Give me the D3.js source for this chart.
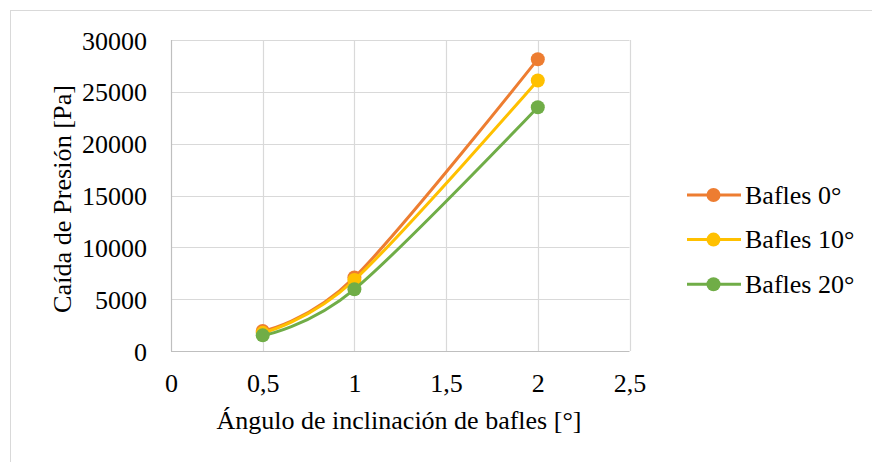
<!DOCTYPE html>
<html><head><meta charset="utf-8">
<script src="https://cdn.jsdelivr.net/npm/d3@7"></script>
<style>body{margin:0;background:#fff}svg{display:block}</style>
</head><body><svg id="c" width="872" height="462"></svg>
<script>
const xValues = [0.5, 1, 2];
const seriesNames = ["Bafles 0°", "Bafles 10°", "Bafles 20°"];
const bafles0 = [1930, 7100, 28150];
const bafles10 = [1750, 6850, 26100];
const bafles20 = [1510, 5950, 23520];
const xTicks = [0, 0.5, 1, 1.5, 2, 2.5];
const yTicks = [0, 5000, 10000, 15000, 20000, 25000, 30000];
const colors = ["#ED7D31", "#FFC000", "#70AD47"];
const xTitle = "Ángulo de inclinación de bafles [°]";
const yTitle = "Caída de Presión [Pa]";

const FF = "'Liberation Serif', 'Times New Roman', serif";
const series = [bafles0, bafles10, bafles20];
const svg = d3.select("#c").style("font-family", FF);
const fs = 26;
svg.append("rect").attr("x",10.5).attr("y",10.5).attr("width",880).attr("height",470)
  .attr("fill","#fff").attr("stroke","#d9d9d9");

const x = d3.scaleLinear().domain([0,2.5]).range([171,629.5]);
const y = d3.scaleLinear().domain([0,30000]).range([351,40]);

const g = svg.append("g");
g.selectAll(".gy").data(yTicks).join("line")
  .attr("x1",x(0)).attr("x2",x(2.5)).attr("y1",d=>Math.round(y(d))+0.5).attr("y2",d=>Math.round(y(d))+0.5)
  .attr("stroke",d=>d===0?"#bfbfbf":"#d9d9d9").attr("stroke-width",1.2);
g.selectAll(".gx").data(xTicks).join("line")
  .attr("y1",y(0)).attr("y2",y(30000)).attr("x1",d=>Math.round(x(d))+0.5).attr("x2",d=>Math.round(x(d))+0.5)
  .attr("stroke",d=>d===0?"#bfbfbf":"#d9d9d9").attr("stroke-width",1.2);

const fmtX = d => String(d).replace(".", ",");
const ax = svg.append("g").attr("transform",`translate(0,${y(0)})`)
  .call(d3.axisBottom(x).tickValues(xTicks).tickSize(0).tickPadding(22).tickFormat(fmtX));
ax.select(".domain").remove();
ax.attr("font-family", null).attr("font-size", null).style("font-family", FF);
ax.selectAll("text").attr("dy",null).style("font-size",fs+"px").style("font-family",FF).attr("fill","#000")
  .attr("y", 22 + 18.5);
const ay = svg.append("g").attr("transform",`translate(${x(0)},0)`)
  .call(d3.axisLeft(y).tickValues(yTicks).tickSize(0).tickPadding(24).tickFormat(d3.format("d")));
ay.select(".domain").remove();
ay.attr("font-family", null).attr("font-size", null).style("font-family", FF);
ay.selectAll("text").attr("dy",null).attr("y",9).style("font-size",fs+"px").style("font-family",FF).attr("fill","#000");

svg.append("text").attr("x",399).attr("y",429).attr("text-anchor","middle")
  .style("font-size",fs+"px").style("font-family",FF).text(xTitle);
svg.append("g").attr("transform","translate(71,199)")
  .append("text").attr("transform","rotate(-90)").attr("text-anchor","middle")
  .attr("textLength",228).attr("lengthAdjust","spacingAndGlyphs")
  .style("font-family",FF).style("font-size",fs+"px")
  .text(yTitle);

const line = d3.line().x((d,i)=>x(xValues[i])).y(d=>y(d)).curve(d3.curveCatmullRom.alpha(0));
series.forEach((s,k)=>{
  svg.append("path").attr("d",line(s)).attr("fill","none").attr("stroke",colors[k]).attr("stroke-width",3).attr("stroke-linecap","round");
  svg.selectAll(null).data(s).join("circle").attr("cx",(d,i)=>x(xValues[i])).attr("cy",d=>y(d)).attr("r",7).attr("fill",colors[k]);
});

const lg = svg.append("g");
seriesNames.forEach((n,k)=>{
  const yy = 195 + k*44.6;
  lg.append("line").attr("x1",687).attr("x2",741).attr("y1",yy).attr("y2",yy).attr("stroke",colors[k]).attr("stroke-width",3);
  lg.append("circle").attr("cx",713.5).attr("cy",yy).attr("r",7).attr("fill",colors[k]);
  lg.append("text").attr("x",745).attr("y",yy+8.5)
    .style("font-size",fs+"px").style("font-family",FF).text(n);
});
</script></body></html>
